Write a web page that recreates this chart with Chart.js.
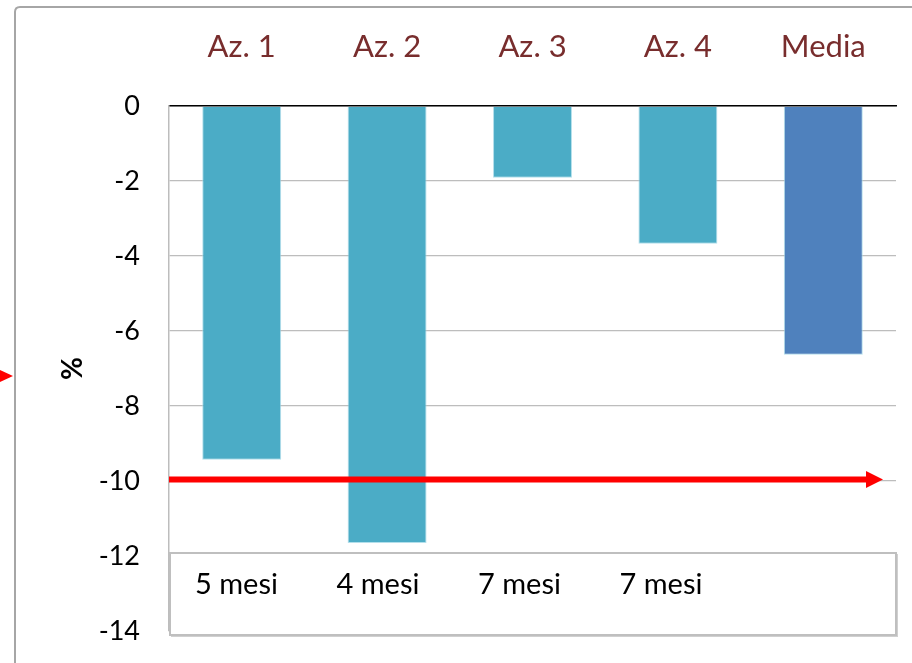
<!DOCTYPE html>
<html>
<head>
<meta charset="utf-8">
<script src="https://cdn.jsdelivr.net/npm/chart.js@4/dist/chart.umd.min.js"></script>
<style>
  html, body { margin: 0; padding: 0; background: #ffffff; }
  #wrap { position: relative; width: 912px; height: 663px; }
</style>
</head>
<body>
<div id="wrap"><canvas id="c" width="912" height="663"></canvas></div>
<script>
// Companies and the average, percentage change
const categories = ['Az. 1', 'Az. 2', 'Az. 3', 'Az. 4', 'Media'];
const values = [-9.43, -11.65, -1.91, -3.67, -6.63];
const barColors = ['#4bacc6', '#4bacc6', '#4bacc6', '#4bacc6', '#4f81bd'];
// Duration shown under each company
const durations = ['5 mesi', '4 mesi', '7 mesi', '7 mesi'];
// Y axis range and step
const yMin = -14, yMax = 0, yStep = 2;
// Level marked by the red arrow
const arrowLevel = -9.96;

const FONT = 'Lato, "Open Sans", sans-serif';

// Outer frame, left pointer, duration box and red arrow
const decorations = {
  id: 'decorations',
  beforeDraw(chart) {
    const ctx = chart.ctx;
    ctx.save();
    ctx.fillStyle = '#ffffff';
    ctx.fillRect(0, 0, chart.width, chart.height);
    // frame
    ctx.strokeStyle = '#a6a6a6';
    ctx.lineWidth = 2;
    ctx.beginPath();
    ctx.moveTo(15, chart.height + 2);
    ctx.lineTo(15, 12);
    ctx.quadraticCurveTo(15, 7, 20, 7);
    ctx.lineTo(chart.width + 2, 7);
    ctx.stroke();
    // pointer entering from the left edge
    ctx.fillStyle = '#ff0000';
    ctx.beginPath();
    ctx.moveTo(-2, 369);
    ctx.lineTo(13, 376);
    ctx.lineTo(-2, 383);
    ctx.closePath();
    ctx.fill();
    ctx.restore();
  },
  afterDatasetsDraw(chart) {
    const ctx = chart.ctx;
    const area = chart.chartArea;
    const y = chart.scales.y;
    ctx.save();
    // red arrow
    const ay = y.getPixelForValue(arrowLevel);
    const tipX = area.right - 13;
    ctx.strokeStyle = '#ff0000';
    ctx.lineWidth = 6;
    ctx.beginPath();
    ctx.moveTo(area.left, ay);
    ctx.lineTo(tipX - 14, ay);
    ctx.stroke();
    ctx.fillStyle = '#ff0000';
    ctx.beginPath();
    ctx.moveTo(tipX - 17, ay - 8.5);
    ctx.lineTo(tipX, ay);
    ctx.lineTo(tipX - 17, ay + 8.5);
    ctx.closePath();
    ctx.fill();

    // duration box
    const bx = area.left + 1, by = area.bottom - 78;
    const bw = area.right - bx, bh = 82;
    ctx.fillStyle = '#d0d0d0';
    ctx.fillRect(bx + 1, by + 1, bw + 1, bh + 1);
    ctx.fillStyle = '#ffffff';
    ctx.fillRect(bx, by, bw, bh);
    ctx.strokeStyle = '#bfbfbf';
    ctx.lineWidth = 2;
    ctx.strokeRect(bx, by, bw, bh);
    ctx.fillStyle = '#000000';
    ctx.font = '29px ' + FONT;
    ctx.textAlign = 'left';
    ctx.textBaseline = 'middle';
    durations.forEach((d, i) => {
      ctx.fillText(d, bx + 25 + i * 141.5, by + 32);
    });
    ctx.restore();
  }
};

new Chart(document.getElementById('c'), {
  type: 'bar',
  data: {
    labels: categories,
    datasets: [{
      data: values,
      backgroundColor: barColors,
      borderColor: 'rgba(160, 215, 230, 0.8)',
      borderWidth: 1,
      barPercentage: 0.543,
      categoryPercentage: 1
    }]
  },
  options: {
    responsive: false,
    animation: false,
    events: [],
    layout: { padding: { left: 0, top: 0, right: 16, bottom: 32 } },
    plugins: { legend: { display: false }, tooltip: { enabled: false } },
    scales: {
      x: {
        position: 'top',
        grid: { display: false, drawTicks: false },
        border: { display: true, color: '#000000', width: 1.5 },
        ticks: {
          color: '#782d2d',
          font: { family: FONT, size: 31 },
          padding: 40,
          maxRotation: 0
        },
        afterFit(scale) { scale.height = 106; }
      },
      y: {
        min: yMin,
        max: yMax,
        grid: { color: '#bdbdbd', lineWidth: 1.3, drawTicks: false },
        border: { display: true, color: '#bdbdbd', width: 1.5 },
        ticks: {
          stepSize: yStep,
          color: '#000000',
          font: { family: FONT, size: 27 },
          padding: 29
        },
        title: {
          display: true,
          text: '%',
          color: '#000000',
          font: { family: FONT, size: 28, weight: 'bold' },
          padding: { top: 56, bottom: 0 }
        },
        afterFit(scale) {
          scale.width = 169;
          scale.paddingTop = 0;
          scale.paddingBottom = 0;
        }
      }
    }
  },
  plugins: [decorations]
});
</script>
</body>
</html>
